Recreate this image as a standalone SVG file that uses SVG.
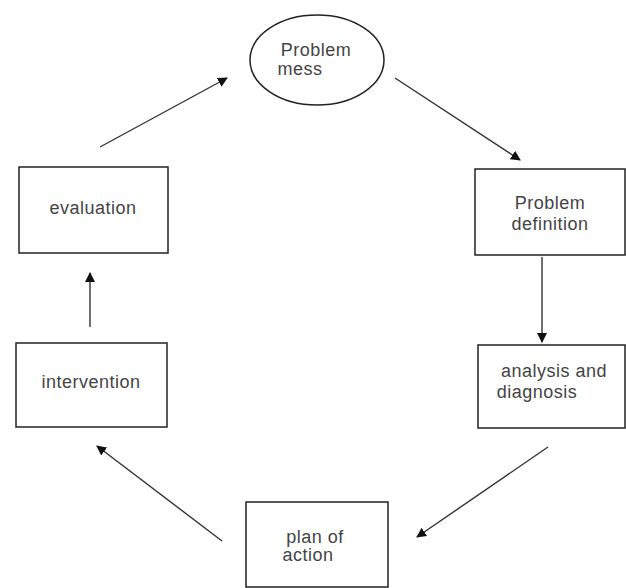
<svg xmlns="http://www.w3.org/2000/svg" width="626" height="588" viewBox="0 0 626 588">
<defs>
<style>
.box{fill:#fff;stroke:#222;stroke-width:1.5}
.t{font-family:"Liberation Sans",Arial,sans-serif;font-size:18px;letter-spacing:0.5px;fill:#444;text-anchor:middle}
.c{stroke:#333;stroke-width:1.4;fill:none;marker-end:url(#ah)}
</style>
<marker id="ah" viewBox="0 0 10 10" refX="9" refY="5" markerWidth="10" markerHeight="10" markerUnits="userSpaceOnUse" orient="auto">
<path d="M0,0 L10,5 L0,10 z" fill="#111"/>
</marker>
</defs>
<rect width="626" height="588" fill="#fff"/>
<g id="problem-mess">
<ellipse cx="317" cy="60" rx="67" ry="45" class="box"/>
<text class="t" x="316" y="56">Problem</text>
<text class="t" x="300" y="75">mess</text>
</g>
<g id="problem-definition">
<rect x="475" y="169" width="150" height="86" class="box"/>
<text class="t" x="550" y="209">Problem</text>
<text class="t" x="550" y="230">definition</text>
</g>
<g id="analysis">
<rect x="478" y="345" width="147" height="83" class="box"/>
<text class="t" x="554" y="377">analysis and</text>
<text class="t" x="537" y="398">diagnosis</text>
</g>
<g id="plan">
<rect x="246" y="502" width="142" height="85" class="box"/>
<text class="t" x="315" y="543">plan of</text>
<text class="t" x="308" y="561">action</text>
</g>
<g id="intervention">
<rect x="16" y="343" width="151" height="84" class="box"/>
<text class="t" x="91" y="388">intervention</text>
</g>
<g id="evaluation">
<rect x="19" y="167" width="149" height="86" class="box"/>
<text class="t" x="93" y="214">evaluation</text>
</g>
<g id="connectors">
<line class="c" x1="100" y1="147" x2="227" y2="78"/>
<line class="c" x1="395" y1="78" x2="520" y2="160"/>
<line class="c" x1="542" y1="257" x2="542" y2="342"/>
<line class="c" x1="548" y1="447" x2="417" y2="537"/>
<line class="c" x1="222" y1="541" x2="97" y2="446"/>
<line class="c" x1="90" y1="327" x2="90" y2="273"/>
</g>
</svg>
